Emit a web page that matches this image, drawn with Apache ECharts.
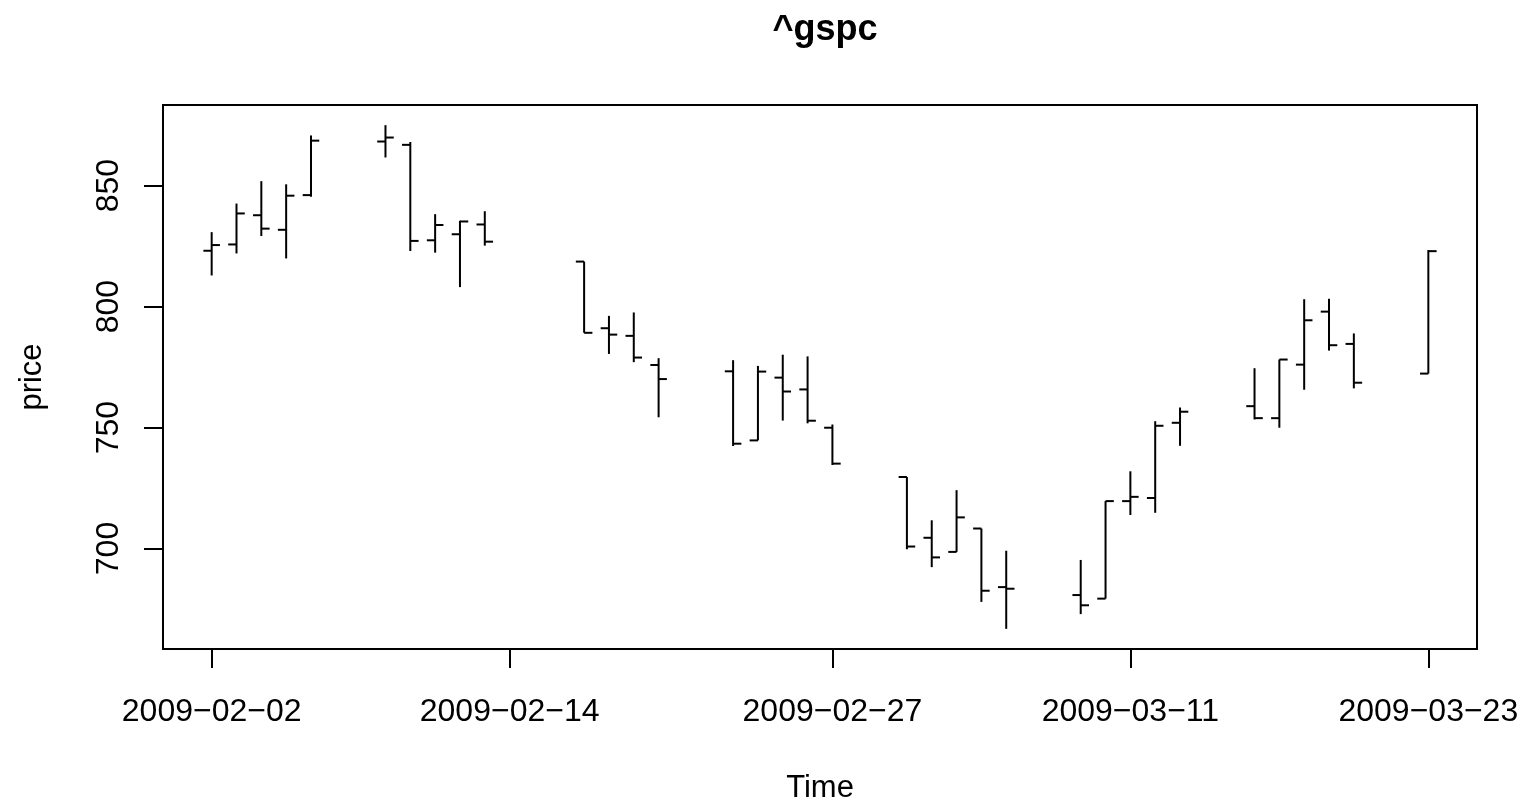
<!DOCTYPE html>
<html>
<head>
<meta charset="utf-8">
<script src="https://cdn.jsdelivr.net/npm/echarts@6/dist/echarts.min.js"></script>
<style>
html,body{margin:0;padding:0;background:#fff;}
#chart{width:1525px;height:801px;}
</style>
</head>
<body>
<div id="chart"></div>
<script>
// ---- data (S&P 500, ^gspc) ----
var dates = ['2009-02-02','2009-02-03','2009-02-04','2009-02-05','2009-02-06',
  '2009-02-09','2009-02-10','2009-02-11','2009-02-12','2009-02-13',
  '2009-02-17','2009-02-18','2009-02-19','2009-02-20',
  '2009-02-23','2009-02-24','2009-02-25','2009-02-26','2009-02-27',
  '2009-03-02','2009-03-03','2009-03-04','2009-03-05','2009-03-06',
  '2009-03-09','2009-03-10','2009-03-11','2009-03-12','2009-03-13',
  '2009-03-16','2009-03-17','2009-03-18','2009-03-19','2009-03-20',
  '2009-03-23'];
var openVals  = [823.09,825.69,837.77,831.75,846.09, 868.24,866.87,827.41,829.91,833.95,
  818.61,791.06,787.91,775.87, 773.25,744.69,770.64,765.76,749.93,
  729.57,704.44,698.60,708.27,684.04, 680.76,679.28,719.59,720.89,751.97,
  758.84,753.88,776.01,797.92,784.58, 772.31];
var highVals  = [830.78,842.60,851.85,850.55,870.75, 875.01,868.05,838.22,835.48,839.43,
  818.61,796.17,797.58,778.69, 777.85,775.49,780.12,779.42,751.27,
  729.57,711.67,724.12,708.27,699.09, 695.27,719.60,731.92,752.63,758.29,
  774.53,778.12,803.04,803.24,788.91, 823.37];
var lowVals   = [812.87,821.98,829.18,819.91,845.42, 861.65,822.99,822.30,808.06,825.21,
  789.17,780.43,777.03,754.25, 742.37,744.69,752.89,751.75,734.52,
  699.70,692.30,698.60,677.93,666.79, 672.88,679.28,713.85,714.76,742.46,
  753.37,749.93,765.64,781.82,766.20, 772.31];
var closeVals = [825.44,838.51,832.23,845.85,868.60, 869.89,827.16,833.74,835.19,826.84,
  789.17,788.42,778.94,770.05, 743.33,773.14,764.90,752.83,735.09,
  700.82,696.33,712.87,682.55,683.38, 676.53,719.60,721.36,750.74,756.55,
  753.89,778.12,794.35,784.04,768.54, 822.92];
var xTickLabels = ['2009-02-02','2009-02-14','2009-02-27','2009-03-11','2009-03-23'];
var yTicks = [700, 750, 800, 850];

// ---- helpers ----
function dayNum(s){ var p = s.split('-'); return Date.UTC(+p[0], +p[1]-1, +p[2]) / 86400000; }
var base = dayNum(dates[0]);
var xs = dates.map(function(d){ return dayNum(d) - base; });
var xTickVals = xTickLabels.map(function(d){ return dayNum(d) - base; });
var labelMap = {};
xTickVals.forEach(function(v, i){ labelMap[v] = xTickLabels[i].replace(/-/g, '\u2212'); });

var seriesData = xs.map(function(x, i){ return [x, openVals[i], highVals[i], lowVals[i], closeVals[i]]; });

// R-style axis ranges (4% extension)
var xMinD = Math.min.apply(null, xs), xMaxD = Math.max.apply(null, xs);
var xPad = (xMaxD - xMinD) * 0.04;
var yMinD = Math.min.apply(null, lowVals), yMaxD = Math.max.apply(null, highVals);
var yPad = (yMaxD - yMinD) * 0.04;

var FONT = '"Liberation Sans", Arial, Helvetica, sans-serif';
var chart = echarts.init(document.getElementById('chart'), null, {renderer: 'canvas'});
var option = {
  animation: false,
  backgroundColor: '#ffffff',
  title: {
    text: '^gspc',
    left: 820, top: 7, textAlign: 'center',
    textStyle: {fontFamily: FONT, fontSize: 36, fontWeight: 'bold', color: '#000'}
  },
  grid: {
    left: 163, top: 105, width: 1314, height: 544,
    containLabel: false, outerBoundsMode: 'none',
    show: true, borderColor: '#000', borderWidth: 2, backgroundColor: 'transparent'
  },
  xAxis: {
    type: 'value',
    min: xMinD - xPad, max: xMaxD + xPad,
    name: 'Time', nameLocation: 'middle', nameGap: 124,
    nameTextStyle: {fontFamily: FONT, fontSize: 31, color: '#000'},
    axisLine: {show: false, onZero: false},
    splitLine: {show: false},
    axisTick: {show: true, customValues: xTickVals, length: 19, inside: false,
      lineStyle: {color: '#000', width: 2}},
    axisLabel: {customValues: xTickVals, margin: 47, fontFamily: FONT, fontSize: 32, color: '#000',
      showMinLabel: true, showMaxLabel: true,
      formatter: function(v){ return labelMap[v] !== undefined ? labelMap[v] : ''; }}
  },
  yAxis: {
    type: 'value',
    min: yMinD - yPad, max: yMaxD + yPad,
    name: 'price', nameLocation: 'middle', nameGap: 115, nameRotate: 90,
    nameTextStyle: {fontFamily: FONT, fontSize: 31, color: '#000'},
    axisLine: {show: false, onZero: false},
    splitLine: {show: false},
    axisTick: {show: true, customValues: yTicks, length: 19, inside: false,
      lineStyle: {color: '#000', width: 2}},
    axisLabel: {customValues: yTicks, rotate: 90, margin: 38, fontFamily: FONT, fontSize: 32, color: '#000'}
  },
  series: [{
    type: 'custom',
    data: seriesData,
    encode: {x: 0, y: [1, 2, 3, 4]},
    clip: true,
    renderItem: function(params, api){
      var x = api.value(0);
      var o = api.coord([x, api.value(1)]);
      var h = api.coord([x, api.value(2)]);
      var l = api.coord([x, api.value(3)]);
      var c = api.coord([x, api.value(4)]);
      var ol = api.coord([x - 1/3, api.value(1)]);
      var cr = api.coord([x + 1/3, api.value(4)]);
      var st = {stroke: '#000', lineWidth: 2};
      return {type: 'group', children: [
        {type: 'line', shape: {x1: h[0], y1: h[1], x2: l[0], y2: l[1]}, style: st},
        {type: 'line', shape: {x1: ol[0], y1: o[1], x2: o[0], y2: o[1]}, style: st},
        {type: 'line', shape: {x1: c[0], y1: c[1], x2: cr[0], y2: c[1]}, style: st}
      ]};
    }
  }]
};
chart.setOption(option);
</script>
</body>
</html>
